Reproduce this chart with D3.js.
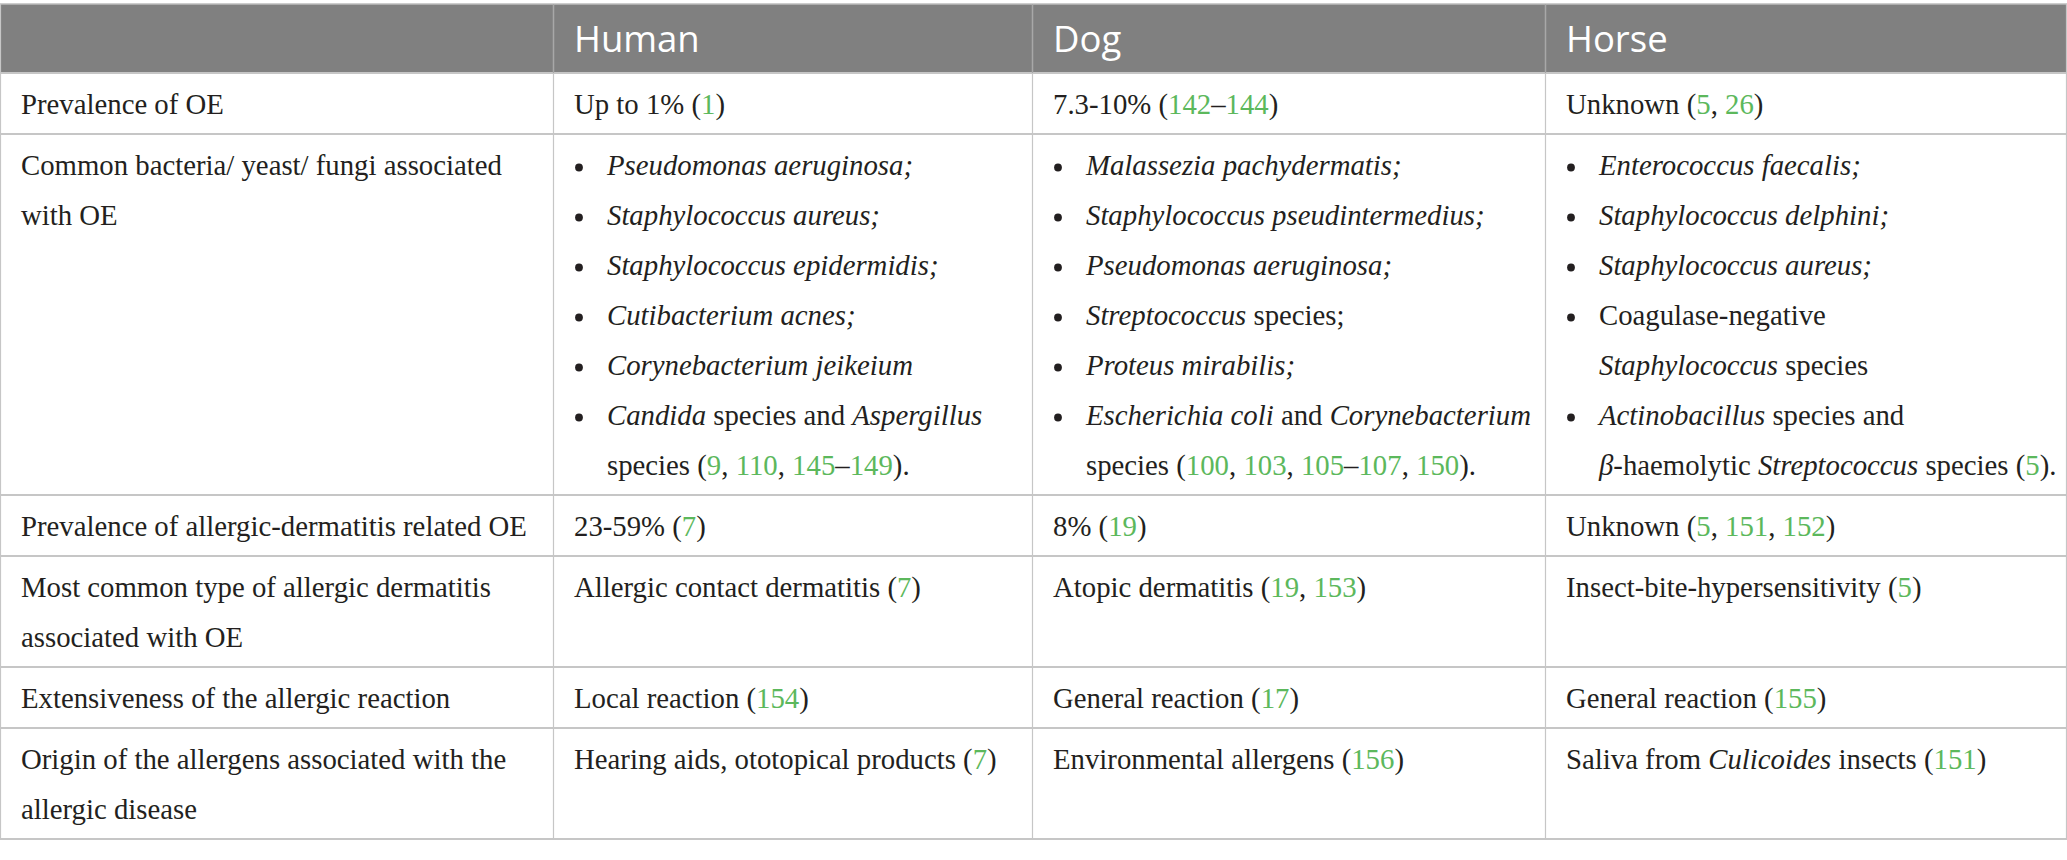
<!DOCTYPE html>
<html>
<head>
<meta charset="utf-8">
<script src="https://cdn.jsdelivr.net/npm/d3@7"></script>
<style>
  body { margin: 0; background: #fff; }
</style>
</head>
<body>
<div id="tabla"></div>
<script>
// Tabla: otitis externa en humano, perro y caballo
// Marcado: _cursiva_, {ref} en verde, "- " viñeta, "  " continuación de viñeta

var encabezados = ["", "Human", "Dog", "Horse"];

var etiquetasFila = [
    ["Prevalence of OE"],
    ["Common bacteria/ yeast/ fungi associated", "with OE"],
    ["Prevalence of allergic-dermatitis related OE"],
    ["Most common type of allergic dermatitis", "associated with OE"],
    ["Extensiveness of the allergic reaction"],
    ["Origin of the allergens associated with the", "allergic disease"]
];

var humano = [
    ["Up to 1% ({1})"],
    ["- _Pseudomonas aeruginosa;_",
     "- _Staphylococcus aureus;_",
     "- _Staphylococcus epidermidis;_",
     "- _Cutibacterium acnes;_",
     "- _Corynebacterium jeikeium_",
     "- _Candida_ species and _Aspergillus_",
     "  species ({9}, {110}, {145}–{149})."],
    ["23-59% ({7})"],
    ["Allergic contact dermatitis ({7})"],
    ["Local reaction ({154})"],
    ["Hearing aids, ototopical products ({7})"]
];

var perro = [
    ["7.3-10% ({142}–{144})"],
    ["- _Malassezia pachydermatis;_",
     "- _Staphylococcus pseudintermedius;_",
     "- _Pseudomonas aeruginosa;_",
     "- _Streptococcus_ species;",
     "- _Proteus mirabilis;_",
     "- _Escherichia coli_ and _Corynebacterium_",
     "  species ({100}, {103}, {105}–{107}, {150})."],
    ["8% ({19})"],
    ["Atopic dermatitis ({19}, {153})"],
    ["General reaction ({17})"],
    ["Environmental allergens ({156})"]
];

var caballo = [
    ["Unknown ({5}, {26})"],
    ["- _Enterococcus faecalis;_",
     "- _Staphylococcus delphini;_",
     "- _Staphylococcus aureus;_",
     "- Coagulase-negative",
     "  _Staphylococcus_ species",
     "- _Actinobacillus_ species and",
     "  _β_-haemolytic _Streptococcus_ species ({5})."],
    ["Unknown ({5}, {151}, {152})"],
    ["Insect-bite-hypersensitivity ({5})"],
    ["General reaction ({155})"],
    ["Saliva from _Culicoides_ insects ({151})"]
];

var columnas = [etiquetasFila, humano, perro, caballo];

// Dimensiones
var width = 2067;
var height = 860;
var bordes = [0, 553, 1032, 1545, 2067];
var topeTabla = 4;
var altoEncabezado = 69;
var altoLinea = 50;
var padX = 21;
var sangria = 54;

var colorTexto = "#231f20";
var colorRef = "#5cb85c";
var colorLinea = "#c6c6c6";
var fuenteSerif = "'Liberation Serif', 'Times New Roman', serif";

var svg = d3.select("#tabla")
    .append("svg")
    .attr("width", width)
    .attr("height", height);

// Ajustar tamaño de letra para que la etiqueta más larga mida lo mismo que en la imagen
var prueba = svg.append("text")
    .attr("font-family", fuenteSerif)
    .attr("font-size", 100)
    .text("Prevalence of allergic-dermatitis related OE");
var tamano = 100 * 506 / prueba.node().getComputedTextLength();
prueba.remove();

// Alturas de fila segun el numero de lineas
var numFilas = etiquetasFila.length;
var alturas = d3.range(numFilas).map(function(i) {
    var n = d3.max(columnas, function(c) { return c[i].length; });
    return 61 + (n - 1) * altoLinea;
});
var tops = [topeTabla + altoEncabezado];
alturas.forEach(function(h, i) { tops.push(tops[i] + h); });

// Encabezado
svg.append("rect")
    .attr("x", 0)
    .attr("y", topeTabla)
    .attr("width", width)
    .attr("height", altoEncabezado)
    .attr("fill", "#808080");

svg.selectAll("text.enc")
    .data(encabezados)
    .enter()
    .append("text")
    .attr("class", "enc")
    .attr("x", function(d, i) { return bordes[i] + padX; })
    .attr("y", topeTabla + 48)
    .attr("font-family", "'Open Sans', sans-serif")
    .attr("font-size", 36.5)
    .attr("fill", "#fff")
    .text(function(d) { return d; });

// Lineas de la cuadricula
var fondo = tops[tops.length - 1];

svg.append("line")
    .attr("x1", 0).attr("x2", width)
    .attr("y1", topeTabla).attr("y2", topeTabla)
    .attr("stroke", "#bdbdbd").attr("stroke-width", 1.5);

svg.selectAll("line.h")
    .data(tops)
    .enter()
    .append("line")
    .attr("class", "h")
    .attr("x1", 0).attr("x2", width)
    .attr("y1", function(d) { return d; })
    .attr("y2", function(d) { return d; })
    .attr("stroke", colorLinea)
    .attr("stroke-width", 2);

svg.selectAll("line.v")
    .data(bordes)
    .enter()
    .append("line")
    .attr("class", "v")
    .attr("x1", function(d, i) { return i === 0 ? 0.5 : (i === bordes.length - 1 ? d - 0.5 : d + 0.5); })
    .attr("x2", function(d, i) { return i === 0 ? 0.5 : (i === bordes.length - 1 ? d - 0.5 : d + 0.5); })
    .attr("y1", topeTabla)
    .attr("y2", fondo)
    .attr("stroke", colorLinea)
    .attr("stroke-width", 1.2);

// Lineas verticales interiores del encabezado, en un gris más claro que el fondo
svg.selectAll("line.ve")
    .data(bordes.slice(1, -1))
    .enter()
    .append("line")
    .attr("x1", function(d) { return d + 0.5; })
    .attr("x2", function(d) { return d + 0.5; })
    .attr("y1", topeTabla)
    .attr("y2", topeTabla + altoEncabezado)
    .attr("stroke", "#a8a8a8")
    .attr("stroke-width", 1.2);

// Convertir una linea con marcado en segmentos
function segmentos(linea) {
    return linea.split(/(_[^_]+_|\{[^}]+\})/).filter(function(s) { return s !== ""; })
        .map(function(s) {
            if (s[0] === "_") return { t: s.slice(1, -1), italica: true, ref: false };
            if (s[0] === "{") return { t: s.slice(1, -1), italica: false, ref: true };
            return { t: s, italica: false, ref: false };
        });
}

// Celdas
columnas.forEach(function(col, c) {
    col.forEach(function(celda, f) {
        celda.forEach(function(linea, k) {
            var y = tops[f] + 41 + k * altoLinea;
            var x = bordes[c] + padX;
            var contenido = linea;
            if (linea.indexOf("- ") === 0) {
                svg.append("circle")
                    .attr("cx", bordes[c] + 26)
                    .attr("cy", y - 7.5)
                    .attr("r", 3.9)
                    .attr("fill", colorTexto);
                x = bordes[c] + sangria;
                contenido = linea.slice(2);
            } else if (linea.indexOf("  ") === 0) {
                x = bordes[c] + sangria;
                contenido = linea.slice(2);
            }
            var texto = svg.append("text")
                .attr("x", x)
                .attr("y", y)
                .attr("font-family", fuenteSerif)
                .attr("font-size", tamano)
                .attr("fill", colorTexto)
                .attr("xml:space", "preserve")
                .style("white-space", "pre");
            texto.selectAll("tspan")
                .data(segmentos(contenido))
                .enter()
                .append("tspan")
                .attr("font-style", function(d) { return d.italica ? "italic" : null; })
                .attr("fill", function(d) { return d.ref ? colorRef : null; })
                .text(function(d) { return d.t; });
        });
    });
});
</script>
</body>
</html>
